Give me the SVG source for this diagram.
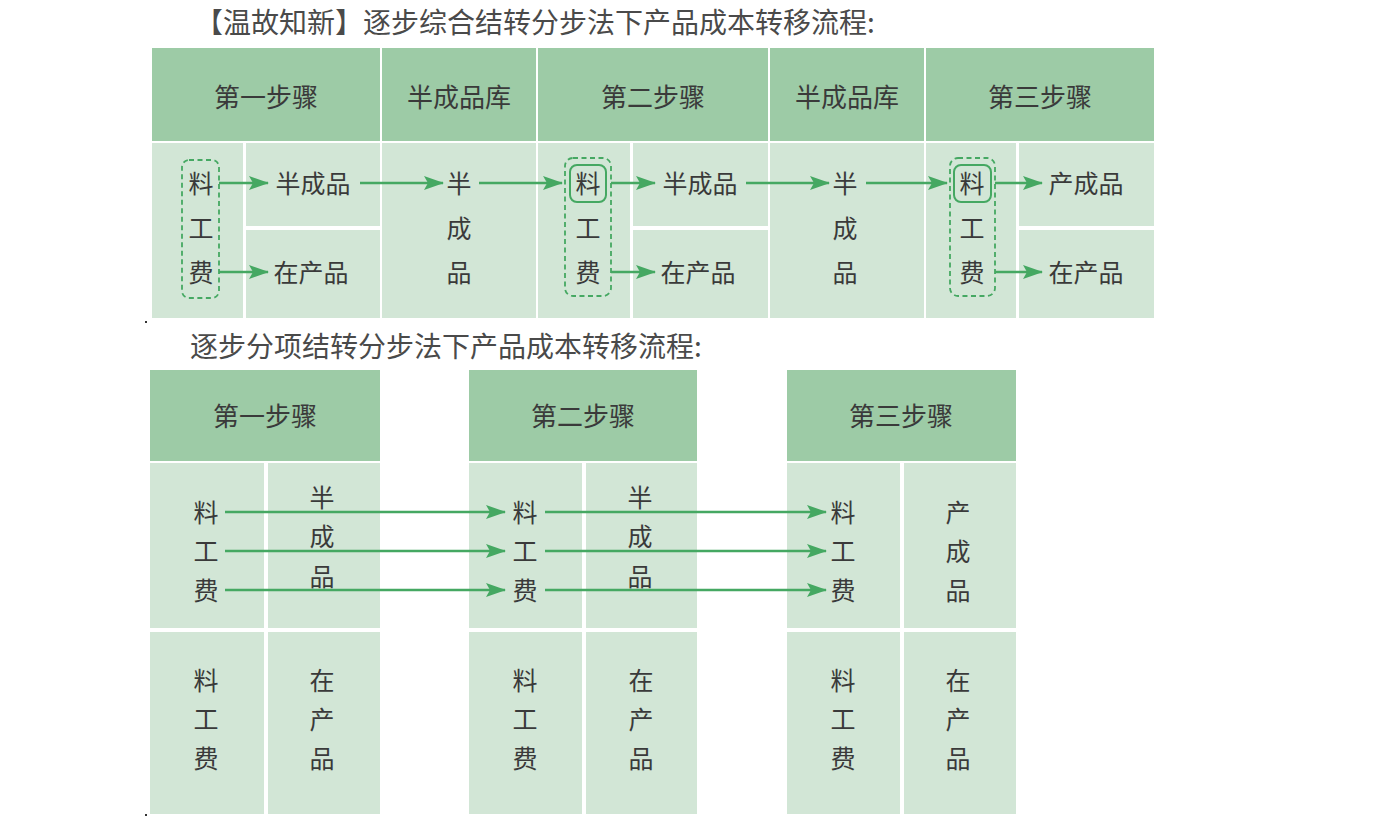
<svg xmlns="http://www.w3.org/2000/svg" width="1374" height="824" viewBox="0 0 1374 824">
<defs>
<marker id="ah" markerUnits="userSpaceOnUse" markerWidth="20" markerHeight="14" refX="19" refY="7" orient="auto">
<path d="M0,0 L20,7 L0,14 L4,7 z" fill="#45a862"/>
</marker>
<style>
.hd{fill:#9dcba6}
.bd{fill:#d2e6d6}
.t{font-family:"Noto Sans CJK SC","Noto Sans",sans-serif;fill:#3a3a3a;text-anchor:middle;dominant-baseline:central}
.h{font-size:26px}
.c{font-size:25px}
.ti{font-family:"Noto Sans CJK SC","Noto Sans",sans-serif;fill:#4a4a4a;font-size:28px;dominant-baseline:central}
.a{stroke:#45a862;stroke-width:2.5;fill:none;marker-end:url(#ah)}
.dash{fill:none;stroke:#45a862;stroke-width:1.8;stroke-dasharray:5 3.5}
.sol{fill:none;stroke:#45a862;stroke-width:2}
</style>
</defs>
<rect width="1374" height="824" fill="#fff"/>
<rect x="145" y="321" width="2" height="2" fill="#333"/>
<rect x="145" y="814" width="2" height="2" fill="#333"/>
<text class="ti" x="195" y="21">【温故知新】逐步综合结转分步法下产品成本转移流程:</text>
<text class="ti" x="190" y="345">逐步分项结转分步法下产品成本转移流程:</text>

<g id="top-step1">
<rect class="hd" x="152" y="48" width="228" height="93"/>
<text class="t h" x="266" y="95">第一步骤</text>
<rect class="bd" x="152" y="143" width="91" height="175"/>
<rect class="bd" x="246" y="143" width="134" height="83"/>
<rect class="bd" x="246" y="230" width="134" height="88"/>
<rect class="dash" x="182" y="160" width="37" height="138" rx="7"/>
<text class="t c" x="201" y="182">料</text>
<text class="t c" x="201" y="227">工</text>
<text class="t c" x="201" y="271">费</text>
<text class="t c" x="313" y="182">半成品</text>
<text class="t c" x="311" y="271">在产品</text>
</g>
<g id="top-store1">
<rect class="hd" x="382" y="48" width="154" height="93"/>
<text class="t h" x="459" y="95">半成品库</text>
<rect class="bd" x="382" y="143" width="154" height="175"/>
<text class="t c" x="459" y="182">半</text>
<text class="t c" x="459" y="227">成</text>
<text class="t c" x="459" y="271">品</text>
</g>
<g id="top-step2">
<rect class="hd" x="538" y="48" width="230" height="93"/>
<text class="t h" x="653" y="95">第二步骤</text>
<rect class="bd" x="538" y="143" width="92" height="175"/>
<rect class="bd" x="633" y="143" width="135" height="83"/>
<rect class="bd" x="633" y="230" width="135" height="88"/>
<rect class="dash" x="565" y="158" width="46" height="138" rx="8"/>
<rect class="sol" x="570" y="165" width="36" height="37" rx="7"/>
<text class="t c" x="588" y="182">料</text>
<text class="t c" x="588" y="227">工</text>
<text class="t c" x="588" y="271">费</text>
<text class="t c" x="700" y="182">半成品</text>
<text class="t c" x="698" y="271">在产品</text>
</g>
<g id="top-store2">
<rect class="hd" x="770" y="48" width="154" height="93"/>
<text class="t h" x="847" y="95">半成品库</text>
<rect class="bd" x="770" y="143" width="154" height="175"/>
<text class="t c" x="845" y="182">半</text>
<text class="t c" x="845" y="227">成</text>
<text class="t c" x="845" y="271">品</text>
</g>
<g id="top-step3">
<rect class="hd" x="926" y="48" width="228" height="93"/>
<text class="t h" x="1040" y="95">第三步骤</text>
<rect class="bd" x="926" y="143" width="90" height="175"/>
<rect class="bd" x="1019" y="143" width="135" height="83"/>
<rect class="bd" x="1019" y="230" width="135" height="88"/>
<rect class="dash" x="950" y="158" width="45" height="138" rx="8"/>
<rect class="sol" x="954" y="165" width="37" height="37" rx="7"/>
<text class="t c" x="972" y="182">料</text>
<text class="t c" x="972" y="227">工</text>
<text class="t c" x="972" y="271">费</text>
<text class="t c" x="1086" y="182">产成品</text>
<text class="t c" x="1086" y="271">在产品</text>
</g>

<g id="bot-step1">
<rect class="hd" x="150" y="370" width="230" height="91"/>
<text class="t h" x="265" y="414">第一步骤</text>
<rect class="bd" x="150" y="463" width="114" height="165"/>
<rect class="bd" x="268" y="463" width="112" height="165"/>
<rect class="bd" x="150" y="632" width="114" height="182"/>
<rect class="bd" x="268" y="632" width="112" height="182"/>
<text class="t c" x="206" y="511">料</text>
<text class="t c" x="206" y="550">工</text>
<text class="t c" x="206" y="589">费</text>
<text class="t c" x="322" y="496">半</text>
<text class="t c" x="322" y="535">成</text>
<text class="t c" x="322" y="575">品</text>
<text class="t c" x="206" y="679">料</text>
<text class="t c" x="206" y="718">工</text>
<text class="t c" x="206" y="757">费</text>
<text class="t c" x="322" y="679">在</text>
<text class="t c" x="322" y="718">产</text>
<text class="t c" x="322" y="757">品</text>
</g>
<g id="bot-step2">
<rect class="hd" x="469" y="370" width="228" height="91"/>
<text class="t h" x="583" y="414">第二步骤</text>
<rect class="bd" x="469" y="463" width="113" height="165"/>
<rect class="bd" x="586" y="463" width="111" height="165"/>
<rect class="bd" x="469" y="632" width="113" height="182"/>
<rect class="bd" x="586" y="632" width="111" height="182"/>
<text class="t c" x="525" y="511">料</text>
<text class="t c" x="525" y="550">工</text>
<text class="t c" x="525" y="589">费</text>
<text class="t c" x="640" y="496">半</text>
<text class="t c" x="640" y="535">成</text>
<text class="t c" x="640" y="575">品</text>
<text class="t c" x="525" y="679">料</text>
<text class="t c" x="525" y="718">工</text>
<text class="t c" x="525" y="757">费</text>
<text class="t c" x="641" y="679">在</text>
<text class="t c" x="641" y="718">产</text>
<text class="t c" x="641" y="757">品</text>
</g>
<g id="bot-step3">
<rect class="hd" x="787" y="370" width="229" height="91"/>
<text class="t h" x="901" y="414">第三步骤</text>
<rect class="bd" x="787" y="463" width="113" height="165"/>
<rect class="bd" x="904" y="463" width="112" height="165"/>
<rect class="bd" x="787" y="632" width="113" height="182"/>
<rect class="bd" x="904" y="632" width="112" height="182"/>
<text class="t c" x="843" y="511">料</text>
<text class="t c" x="843" y="550">工</text>
<text class="t c" x="843" y="589">费</text>
<text class="t c" x="958" y="511">产</text>
<text class="t c" x="958" y="550">成</text>
<text class="t c" x="958" y="589">品</text>
<text class="t c" x="843" y="679">料</text>
<text class="t c" x="843" y="718">工</text>
<text class="t c" x="843" y="757">费</text>
<text class="t c" x="958" y="679">在</text>
<text class="t c" x="958" y="718">产</text>
<text class="t c" x="958" y="757">品</text>
</g>

<g id="connectors">
<line class="a" x1="219" y1="183" x2="268" y2="183"/>
<line class="a" x1="219" y1="272" x2="268" y2="272"/>
<line class="a" x1="360" y1="183" x2="443" y2="183"/>
<line class="a" x1="479" y1="183" x2="562" y2="183"/>
<line class="a" x1="611" y1="183" x2="655" y2="183"/>
<line class="a" x1="611" y1="272" x2="655" y2="272"/>
<line class="a" x1="746" y1="183" x2="829" y2="183"/>
<line class="a" x1="866" y1="183" x2="947" y2="183"/>
<line class="a" x1="995" y1="183" x2="1042" y2="183"/>
<line class="a" x1="995" y1="272" x2="1042" y2="272"/>
<line class="a" x1="225" y1="512" x2="505" y2="512"/>
<line class="a" x1="225" y1="551" x2="505" y2="551"/>
<line class="a" x1="225" y1="590" x2="505" y2="590"/>
<line class="a" x1="545" y1="512" x2="826" y2="512"/>
<line class="a" x1="545" y1="551" x2="826" y2="551"/>
<line class="a" x1="545" y1="590" x2="826" y2="590"/>
</g>
</svg>
